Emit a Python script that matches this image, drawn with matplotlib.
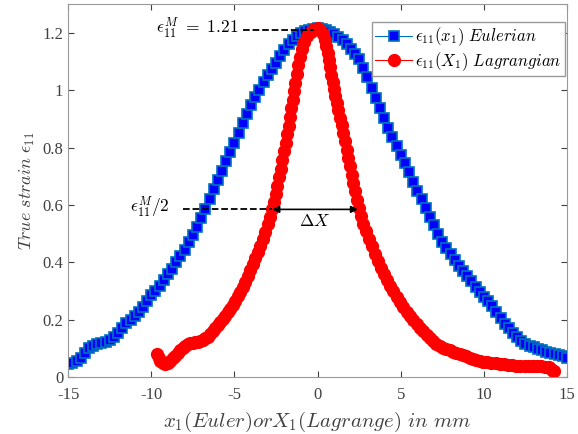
import numpy as np
import matplotlib
matplotlib.use('Agg')
import matplotlib.pyplot as plt

plt.rcParams['font.family'] = ['Liberation Serif', 'DejaVu Serif']
plt.rcParams['mathtext.fontset'] = 'cm'
plt.rcParams['axes.unicode_minus'] = False

# Eulerian strain, sampled every 0.25 mm from -15 to 15
euler_x = np.linspace(-15, 15, 121)
euler_eps = [
    0.047, 0.050, 0.055, 0.068, 0.085, 0.100, 0.110, 0.115, 0.118, 0.122,
    0.130, 0.140, 0.155, 0.172, 0.188, 0.200, 0.213, 0.228, 0.245, 0.265,
    0.285, 0.300, 0.318, 0.338, 0.358, 0.378, 0.400, 0.422, 0.445, 0.470,
    0.497, 0.525, 0.555, 0.585, 0.620, 0.655, 0.688, 0.720, 0.752, 0.785,
    0.818, 0.852, 0.886, 0.918, 0.948, 0.976, 1.002, 1.028, 1.052, 1.075,
    1.097, 1.120, 1.142, 1.160, 1.177, 1.190, 1.200, 1.207, 1.212, 1.215,
    1.216, 1.215, 1.212, 1.205, 1.197, 1.187, 1.175, 1.160, 1.145, 1.128,
    1.108, 1.078, 1.045, 1.010, 0.975, 0.940, 0.905, 0.870, 0.837, 0.805,
    0.775, 0.745, 0.715, 0.682, 0.650, 0.620, 0.590, 0.560, 0.530, 0.500,
    0.473, 0.450, 0.430, 0.408, 0.388, 0.370, 0.352, 0.334, 0.316, 0.298,
    0.280, 0.264, 0.247, 0.226, 0.205, 0.187, 0.170, 0.155, 0.140, 0.127,
    0.117, 0.110, 0.104, 0.098, 0.093, 0.089, 0.085, 0.080, 0.076, 0.072,
    0.068,
]

# Lagrangian strain (material coordinate X1)
lagr_x = [
    -9.65, -9.55, -9.45, -9.30, -9.15, -9.00, -8.85, -8.70, -8.55, -8.40,
    -8.25, -8.10, -7.95, -7.80, -7.65, -7.50, -7.35, -7.20, -7.05, -6.90,
    -6.75, -6.60, -6.45, -6.30, -6.15, -6.00, -5.85, -5.70, -5.55, -5.40,
    -5.25, -5.10, -4.95, -4.80, -4.65, -4.50, -4.35, -4.20, -4.05, -3.90,
    -3.75, -3.60, -3.45, -3.30, -3.15, -3.00, -2.87, -2.75, -2.63, -2.52,
    -2.42, -2.32, -2.22, -2.12, -2.02, -1.93, -1.84, -1.75, -1.66, -1.58,
    -1.50, -1.42, -1.34, -1.26, -1.17, -1.07, -0.95, -0.80, -0.62, -0.42,
    -0.20, 0.00,
    0.15, 0.30, 0.42, 0.52, 0.61, 0.69, 0.76, 0.83, 0.90, 0.98,
    1.06, 1.15, 1.25, 1.35, 1.45, 1.55, 1.65, 1.75, 1.85, 1.95,
    2.05, 2.15, 2.25, 2.36, 2.47, 2.60, 2.75, 2.92, 3.10, 3.28,
    3.46, 3.64, 3.82, 4.00, 4.18, 4.36, 4.55, 4.75, 4.95, 5.15,
    5.35, 5.55, 5.75, 5.95, 6.15, 6.35, 6.55, 6.75, 6.95, 7.15,
    7.35, 7.55, 7.75, 7.95, 8.15, 8.35, 8.55, 8.75, 8.95, 9.15,
    9.35, 9.55, 9.75, 9.95, 10.20, 10.45, 10.70, 10.95, 11.20, 11.45,
    11.70, 11.95, 12.20, 12.45, 12.70, 12.95, 13.20, 13.45, 13.70, 13.90,
    14.05, 14.15, 14.20,
]
lagr_eps = [
    0.080, 0.068, 0.057, 0.049, 0.047, 0.050, 0.057, 0.066, 0.075, 0.084,
    0.093, 0.102, 0.110, 0.116, 0.119, 0.120, 0.121, 0.123, 0.126, 0.130,
    0.135, 0.141, 0.150, 0.160, 0.171, 0.182, 0.193, 0.203, 0.214, 0.226,
    0.239, 0.253, 0.267, 0.282, 0.298, 0.315, 0.333, 0.352, 0.372, 0.393,
    0.414, 0.436, 0.458, 0.482, 0.507, 0.533, 0.560, 0.585, 0.612, 0.640,
    0.668, 0.697, 0.727, 0.757, 0.787, 0.817, 0.847, 0.877, 0.907, 0.937,
    0.967, 0.997, 1.027, 1.057, 1.087, 1.117, 1.145, 1.170, 1.190, 1.205,
    1.213, 1.216,
    1.212, 1.195, 1.175, 1.155, 1.130, 1.105, 1.080, 1.055, 1.030, 1.005,
    0.980, 0.955, 0.930, 0.905, 0.878, 0.850, 0.822, 0.793, 0.764, 0.735,
    0.706, 0.677, 0.648, 0.619, 0.590, 0.562, 0.535, 0.508, 0.482, 0.456,
    0.431, 0.406, 0.382, 0.360, 0.339, 0.319, 0.300, 0.281, 0.263, 0.245,
    0.228, 0.212, 0.198, 0.185, 0.172, 0.160, 0.148, 0.137, 0.127, 0.117,
    0.108, 0.102, 0.097, 0.093, 0.089, 0.085, 0.081, 0.077, 0.073, 0.068,
    0.063, 0.059, 0.056, 0.054, 0.052, 0.050, 0.048, 0.046, 0.045, 0.043,
    0.041, 0.040, 0.039, 0.038, 0.038, 0.038, 0.038, 0.038, 0.037, 0.034,
    0.029, 0.023, 0.020,
]

eps_max = 1.21
half_left, half_right = -2.73, 2.43

fig = plt.figure(figsize=(5.78, 4.34), dpi=100)
ax = fig.add_axes([0.118, 0.131, 0.863, 0.859])

ax.plot(euler_x, euler_eps, '-s', color='#0072BD', markerfacecolor='#0000FF',
        markeredgecolor='#0072BD', markersize=6.5, markeredgewidth=1.2,
        linewidth=0.8, label=r'$\epsilon_{11}(x_1)\ Eulerian$')
ax.plot(lagr_x, lagr_eps, '-o', color='#FF0000', markerfacecolor='#FF0000',
        markeredgecolor='#FF0000', markersize=8.5, linewidth=0.8,
        label=r'$\epsilon_{11}(X_1)\ Lagrangian$')

# peak and half-width annotations
ax.plot([-4.5, -0.2], [eps_max, eps_max], 'k--', linewidth=1.3)
ax.text(-9.7, 1.218, r'$\epsilon_{11}^M\ =\ 1.21$', fontsize=12.5, va='center', ha='left')
ax.plot([-8.1, half_left], [eps_max / 2 - 0.02, eps_max / 2 - 0.02], 'k--', linewidth=1.3)
ax.text(-11.3, 0.592, r'$\epsilon_{11}^M/2$', fontsize=12.5, va='center', ha='left')
ax.annotate('', xy=(half_left, 0.585), xytext=(half_right, 0.585),
            arrowprops=dict(arrowstyle='<|-|>', color='k', lw=1.2,
                            mutation_scale=10, shrinkA=0, shrinkB=0))
ax.text(-0.15, 0.54, r'$\Delta X$', fontsize=12.5, ha='center', va='center')

ax.set_xlim(-15, 15)
ax.set_ylim(0, 1.3)
ax.set_xticks([-15, -10, -5, 0, 5, 10, 15])
ax.set_yticks([0, 0.2, 0.4, 0.6, 0.8, 1.0, 1.2])
ax.set_yticklabels(['0', '0.2', '0.4', '0.6', '0.8', '1', '1.2'])
ax.tick_params(direction='in', top=True, right=True, labelsize=12,
               colors='#404040', length=4)
ax.tick_params(axis='x', pad=7)
for s in ax.spines.values():
    s.set_color('#999999')

ax.set_xlabel(r'$x_1(Euler) or X_1(Lagrange)\ in\ mm$', fontsize=15,
              color='#404040', labelpad=5)
ax.set_ylabel(r'$True\ strain\ \epsilon_{11}$', fontsize=13, color='#404040')

leg = ax.legend(loc='upper right', bbox_to_anchor=(0.996, 0.952), fontsize=12,
                fancybox=False, framealpha=1, edgecolor='#999999',
                borderpad=0.2, handlelength=2.2, labelspacing=0.1,
                handletextpad=0.2, borderaxespad=0)

fig.savefig('out.png', dpi=100)
